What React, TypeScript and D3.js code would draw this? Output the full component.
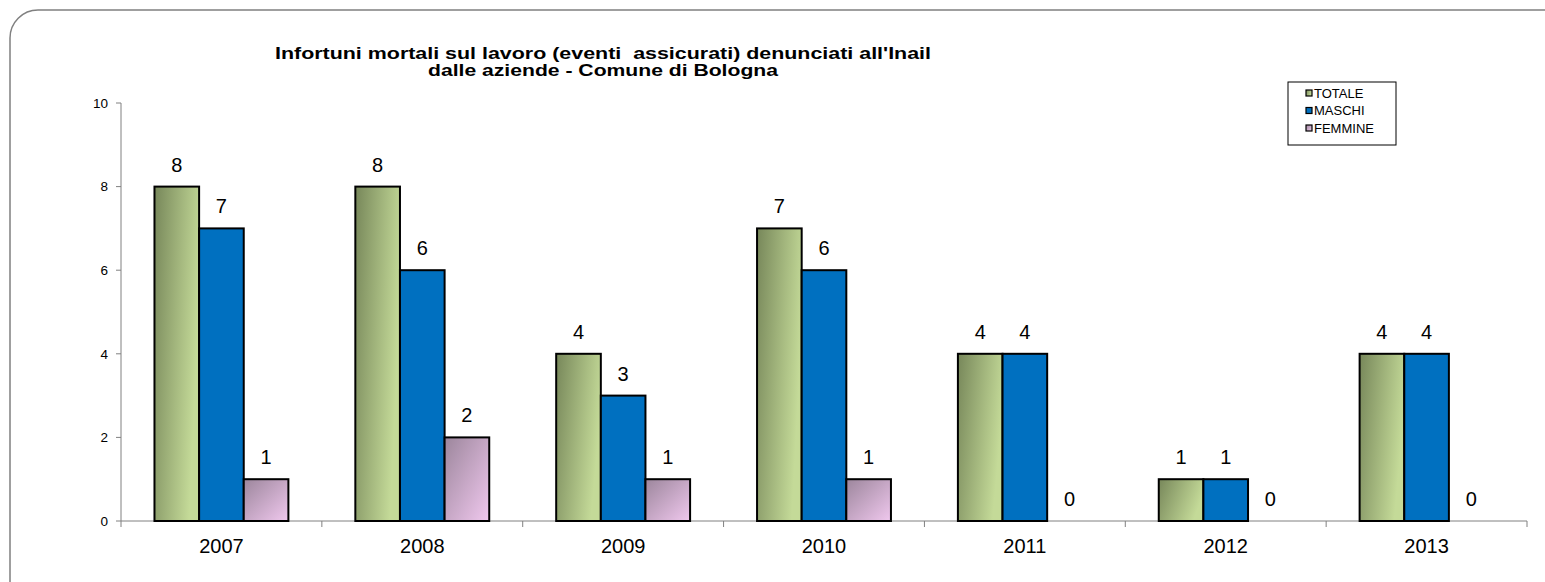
import { useMemo } from 'react';
import { scaleLinear, scaleBand } from 'd3';

const years = ['2007', '2008', '2009', '2010', '2011', '2012', '2013'];
const totale = [8, 8, 4, 7, 4, 1, 4];
const maschi = [7, 6, 3, 6, 4, 1, 4];
const femmine = [1, 2, 1, 1, 0, 0, 0];
const seriesNames = ['TOTALE', 'MASCHI', 'FEMMINE'];
const yTicks = [0, 2, 4, 6, 8, 10];
const titleLines = [
  "Infortuni mortali sul lavoro (eventi\u00a0 assicurati) denunciati all'Inail",
  'dalle aziende - Comune di Bologna',
];
const titleWidths = [656, 350];

const fills = ['url(#gTot)', '#0070C0', 'url(#gFem)'];
const font = 'Arial, "Liberation Sans", sans-serif';

const App = () => {
  const left = 121;
  const right = 1527;
  const top = 103;
  const bottom = 521;

  const x = useMemo(() => scaleBand().domain(years).range([left, right]), []);
  const y = useMemo(() => scaleLinear().domain([0, 10]).range([bottom, top]), []);
  const inner = useMemo(
    () => scaleBand().domain(seriesNames).range([0, x.bandwidth()]).paddingOuter(0.75).paddingInner(0),
    [x]
  );
  const data = [totale, maschi, femmine];

  return (
    <svg width={1545} height={582} style={{ position: 'absolute', left: 0, top: 0, fontFamily: font }}>
      <defs>
        <linearGradient id="gTot" x1="0" y1="0" x2="1" y2="0.35">
          <stop offset="0" stopColor="#77875a" />
          <stop offset="1" stopColor="#c4da98" />
        </linearGradient>
        <linearGradient id="gFem" x1="0" y1="0" x2="1" y2="1">
          <stop offset="0" stopColor="#9c869c" />
          <stop offset="1" stopColor="#f0c8ee" />
        </linearGradient>
      </defs>
      <rect x={10} y={10} width={1570} height={600} rx={28} ry={28} fill="white" stroke="#808080" strokeWidth={1.5} />

      {titleLines.map((t, i) => (
        <text
          key={i}
          x={603}
          y={59 + i * 17}
          textAnchor="middle"
          fontSize={16.5}
          fontWeight="bold"
          textLength={titleWidths[i]}
          lengthAdjust="spacingAndGlyphs"
        >
          {t}
        </text>
      ))}

      {/* axes */}
      <line x1={left} x2={left} y1={top} y2={bottom + 6} stroke="#808080" />
      <line x1={left} x2={right} y1={bottom} y2={bottom} stroke="#808080" />
      {yTicks.map((t) => (
        <g key={t}>
          <line x1={left - 5} x2={left} y1={y(t)} y2={y(t)} stroke="#808080" />
          <text x={left - 13} y={y(t)} dy="0.35em" textAnchor="end" fontSize={13.5}>
            {t}
          </text>
        </g>
      ))}
      {years.map((yr) => (
        <g key={yr}>
          <line x1={(x(yr) ?? 0) + x.bandwidth()} x2={(x(yr) ?? 0) + x.bandwidth()} y1={bottom} y2={bottom + 6} stroke="#808080" />
          <text x={(x(yr) ?? 0) + x.bandwidth() / 2} y={553} textAnchor="middle" fontSize={20}>
            {yr}
          </text>
        </g>
      ))}

      {/* bars */}
      {years.map((yr, i) => (
        <g key={yr} transform={`translate(${x(yr)},0)`}>
          {seriesNames.map((s, j) => {
            const v = data[j][i];
            const bx = inner(s) ?? 0;
            const bw = inner.bandwidth();
            return (
              <g key={s}>
                {v > 0 && (
                  <rect x={bx} y={y(v)} width={bw} height={bottom - y(v)} fill={fills[j]} stroke="black" strokeWidth={2} />
                )}
                <text x={bx + bw / 2} y={y(v) - 15} textAnchor="middle" fontSize={20}>
                  {v}
                </text>
              </g>
            );
          })}
        </g>
      ))}

      {/* legend */}
      <rect x={1288} y={82} width={108} height={63} fill="white" stroke="black" strokeWidth={1} />
      {seriesNames.map((s, j) => (
        <g key={s} transform={`translate(1306,${93 + j * 17.5})`}>
          <rect x={0} y={-3} width={6} height={6} fill={fills[j]} stroke="black" strokeWidth={1.2} />
          <text x={8} y={0} dy="0.35em" fontSize={13}>
            {s}
          </text>
        </g>
      ))}
    </svg>
  );
};

export default App;
